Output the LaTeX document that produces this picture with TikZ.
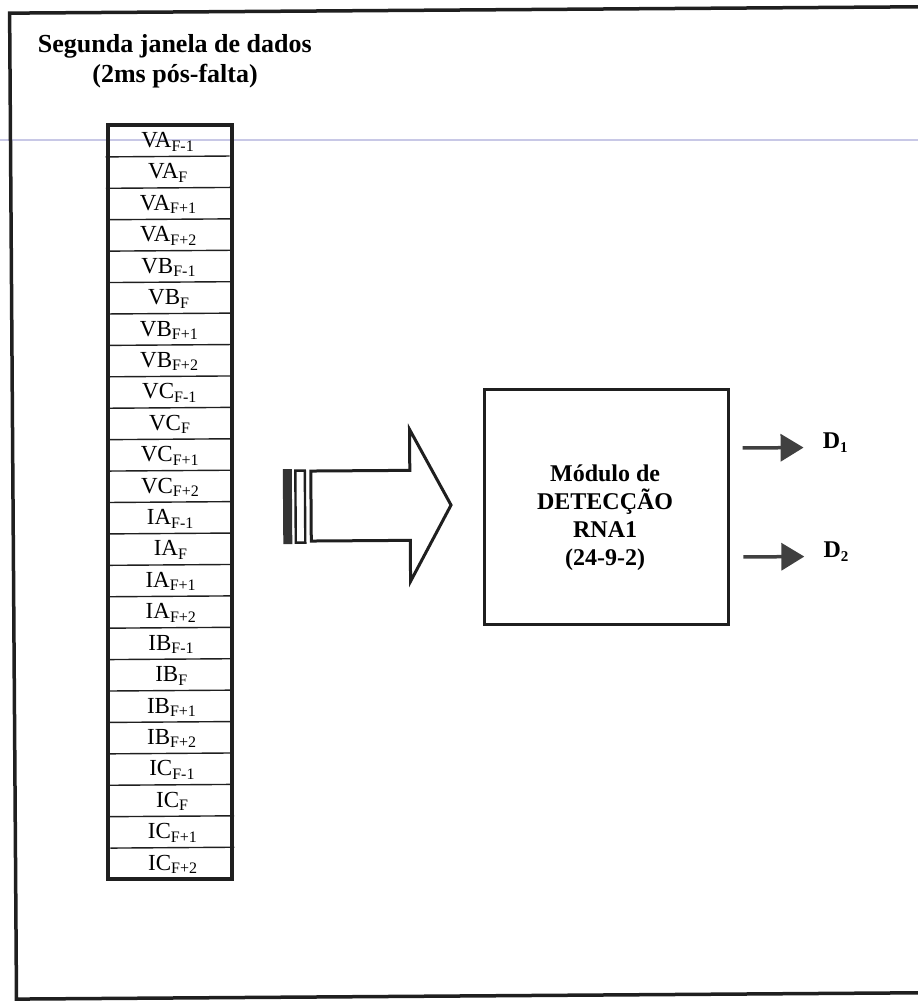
\documentclass[tikz,border=0pt]{standalone}
\usepackage{fontspec}
\setmainfont{Liberation Serif}
\usetikzlibrary{arrows.meta}
\definecolor{ink}{gray}{0.12}
\definecolor{scanline}{RGB}{200,200,230}
\newcommand\lbl[2]{#1\raisebox{-3.5pt}{\fontsize{16}{16}\selectfont #2}}
\newcommand\dlbl[2]{#1\raisebox{-4pt}{\fontsize{15}{15}\selectfont #2}}
\begin{document}
\begin{tikzpicture}[x=1pt,y=-1pt,
  framepen/.style={draw=ink,line width=3.5pt},
  colborder/.style={draw=ink,line width=4pt},
  rowsep/.style={draw=ink,line width=1.4pt},
  celltext/.style={anchor=base,inner sep=0pt,font=\fontsize{23}{23}\selectfont},
  boldtext/.style={font=\bfseries\fontsize{26}{30}\selectfont,inner sep=0pt},
  boxtext/.style={font=\bfseries\fontsize{24}{28}\selectfont,inner sep=0pt,align=center},
  dtext/.style={anchor=base west,inner sep=0pt,font=\bfseries\fontsize{24}{24}\selectfont},
  bigarrow/.style={draw=ink,line width=3pt,miter limit=10,fill=white},
  outarrow/.style={draw=black!75,line width=3.5pt,-{Triangle[length=23pt,width=27pt]}},
]
\useasboundingbox (0,0) rectangle (918,1001);
\clip (0,0) rectangle (918,1001);
\draw[scanline,line width=1.3pt] (0,140) -- (918,140);
\begin{scope}[rotate around={0.4:(459,500)}]
% outer frame
\draw[framepen] (940,10) -- (13,10) -- (13,996) -- (940,996);
% title
\node[boldtext,anchor=base] (title1) at (178,51) {Segunda janela de dados};
\node[boldtext,anchor=base] (title2) at (178,81) {(2ms pós-falta)};
% data column
\foreach \i in {1,...,23}
  \draw[rowsep] (108,{123+31.42*\i}) -- (232,{123+31.42*\i});
\node[colborder,minimum width=124pt,minimum height=754pt,inner sep=0pt] (col) at (170,500) {};
\foreach \n/\m [count=\i from 0] in {VA/F-1,VA/F,VA/F+1,VA/F+2,VB/F-1,VB/F,VB/F+1,VB/F+2,VC/F-1,VC/F,VC/F+1,VC/F+2,IA/F-1,IA/F,IA/F+1,IA/F+2,IB/F-1,IB/F,IB/F+1,IB/F+2,IC/F-1,IC/F,IC/F+1,IC/F+2}
  \node[celltext] (c\i) at (170,{123+31.42*\i+22.5}) {\lbl{\n}{\m}};
% hollow arrow with bars
\fill[black!80] (283,468) rectangle (292,543);
\draw[draw=ink,line width=2.4pt] (295.5,469.5) rectangle (305,541.5);
\draw[bigarrow] (311,470) -- (410,470) -- (410,429) -- (451,505) -- (410,581) -- (410,540) -- (311,540) -- cycle;
% module box
\node[draw=ink,line width=3pt,minimum width=244pt,minimum height=235pt,inner sep=0pt] (rna) at (606,508.5) {};
\node[boxtext] (rnatext) at (605,519) {Módulo de\\DETECÇÃO\\RNA1\\(24-9-2)};
% outputs
\coordinate (o1s) at (743,450);
\coordinate (o1e) at (804,450);
\coordinate (o2s) at (743,559);
\coordinate (o2e) at (804,559);
\draw[outarrow] (o1s) -- (o1e);
\draw[outarrow] (o2s) -- (o2e);
\node[dtext] (d1) at (823,451) {\dlbl{D}{1}};
\node[dtext] (d2) at (823,560) {\dlbl{D}{2}};
\end{scope}
\end{tikzpicture}
\end{document}
